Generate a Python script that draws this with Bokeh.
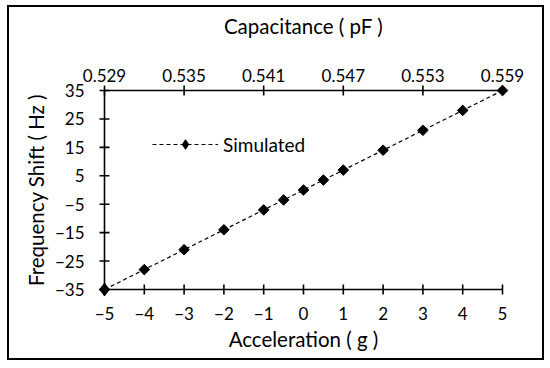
import math
from bokeh.plotting import figure
from bokeh.models import (Range1d, LinearAxis, FixedTicker, Legend, LegendItem,
                          NumeralTickFormatter, CDSView, IndexFilter)
from bokeh.embed import file_html
from bokeh.resources import INLINE

# ---- data ----
acceleration = [-5, -4, -3, -2, -1, -0.5, 0, 0.5, 1, 2, 3, 4, 5]
freq_shift = [-35, -28, -21, -14, -7, -3.5, 0, 3.5, 7, 14, 21, 28, 35]
x_ticks = [-5, -4, -3, -2, -1, 0, 1, 2, 3, 4, 5]
y_ticks = [-35, -25, -15, -5, 5, 15, 25, 35]
cap_ticks = [0.529, 0.535, 0.541, 0.547, 0.553, 0.559]
series_name = "Simulated"

FONT = "Lato"
W, H = 537, 355
PAD = 7            # px of room around the axes so end markers are not clipped
X_PX, Y_PX = 398, 199  # px spanned by the axes
TICK = 5           # tick half length, px
BL, BT = 88, 76
FW, FH = X_PX + 2 * PAD, Y_PX + 2 * PAD

x0, x1 = x_ticks[0], x_ticks[-1]
y0, y1 = y_ticks[0], y_ticks[-1]
c0, c1 = cap_ticks[0], cap_ticks[-1]
ux = (x1 - x0) / X_PX   # data units per px
uy = (y1 - y0) / Y_PX
uc = (c1 - c0) / X_PX

p = figure(width=W, height=H, output_backend="svg", toolbar_location=None,
           x_range=Range1d(x0 - PAD * ux, x1 + PAD * ux),
           y_range=Range1d(y0 - PAD * uy, y1 + PAD * uy),
           min_border_left=BL, min_border_right=W - BL - FW,
           min_border_top=BT, min_border_bottom=H - BT - FH,
           background_fill_color="white",
           border_fill_color="white", outline_line_color=None)
p.styles = {"border": "2px solid black", "margin-left": "7px",
            "margin-top": "5px"}
p.grid.visible = False
p.extra_x_ranges = {"cap": Range1d(c0 - PAD * uc, c1 + PAD * uc)}

top = LinearAxis(x_range_name="cap", ticker=FixedTicker(ticks=cap_ticks),
                 formatter=NumeralTickFormatter(format="0.000"),
                 axis_label="Capacitance ( pF )")
p.add_layout(top, "above")
bottom = p.below[0]
left = p.left[0]


def minus(v):
    return ("%g" % v).replace("-", "\u2212")


bottom.ticker = FixedTicker(ticks=x_ticks)
bottom.major_label_overrides = {v: minus(v) for v in x_ticks}
bottom.axis_label = "Acceleration ( g )"
left.ticker = FixedTicker(ticks=y_ticks)
left.major_label_overrides = {v: minus(v) for v in y_ticks}
left.axis_label = "Frequency Shift ( Hz )"

for ax in [bottom, left, top]:
    ax.axis_line_color = None
    ax.major_tick_line_color = None
    ax.minor_tick_line_color = None
    ax.major_tick_in = 0
    ax.major_tick_out = 0
    ax.major_label_text_font = FONT
    ax.major_label_text_font_size = "17px"
    ax.major_label_text_color = "black"
    ax.axis_label_text_font = FONT
    ax.axis_label_text_font_size = "20.5px"
    ax.axis_label_text_font_style = "normal"
    ax.axis_label_text_color = "black"
bottom.major_label_standoff = 10
bottom.axis_label_standoff = 4
left.major_label_standoff = 13
left.axis_label_standoff = 4
top.major_label_standoff = 2
top.axis_label_standoff = 28

# axis lines and crossing ticks, placed at the axis bounds
AX = dict(line_color="black", line_width=1.6)
p.segment(x0=[x0, x0, x0], y0=[y0, y0, y1], x1=[x1, x0, x1], y1=[y0, y1, y1], **AX)
p.segment(x0=x_ticks, x1=x_ticks, y0=[y0 - TICK * uy] * len(x_ticks),
          y1=[y0 + TICK * uy] * len(x_ticks), **AX)
p.segment(y0=y_ticks, y1=y_ticks, x0=[x0 - TICK * ux] * len(y_ticks),
          x1=[x0 + TICK * ux] * len(y_ticks), **AX)
p.segment(x0=cap_ticks, x1=cap_ticks, y0=[y1 - TICK * uy] * len(cap_ticks),
          y1=[y1 + TICK * uy] * len(cap_ticks), x_range_name="cap", **AX)

ln = p.line(acceleration, freq_shift, line_color="black", line_width=1.2,
            line_dash="4 3")
p.scatter(acceleration, freq_shift, marker="square", angle=math.pi / 4,
          size=7.5, fill_color="black", line_color="black")
# diamond used for the legend symbol (drawn only on the first point)
leg_mark = p.scatter(acceleration, freq_shift, marker="diamond", size=13,
                     fill_color="black", line_color="black",
                     view=CDSView(filter=IndexFilter(indices=[0])))

legend = Legend(items=[LegendItem(label=series_name, renderers=[ln, leg_mark])],
                location=(55, 140), glyph_width=66, glyph_height=24,
                padding=0, margin=0, border_line_color=None,
                background_fill_alpha=0, label_text_font=FONT,
                label_text_font_size="19px", label_standoff=5,
                label_text_color="black")
p.add_layout(legend, "center")

open("out.html", "w").write(file_html(p, INLINE))
